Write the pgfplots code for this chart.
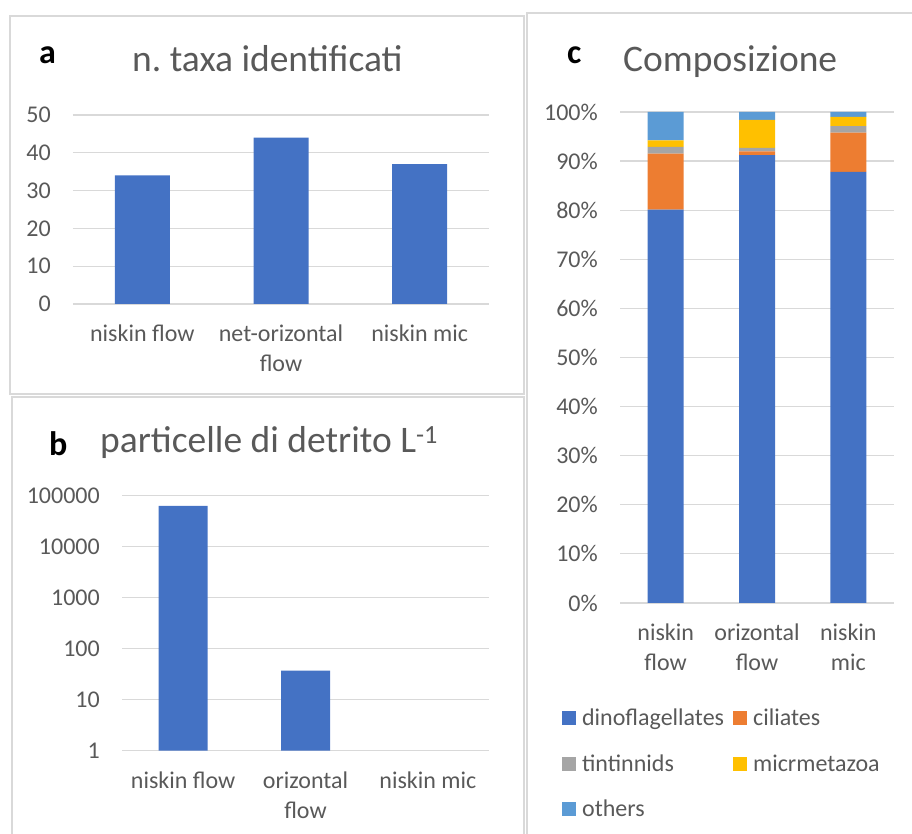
\documentclass[border=0pt]{standalone}
\usepackage{pgfplots}
\pgfplotsset{compat=1.18}
\usepackage{fontspec}
\setmainfont{Carlito}
\frenchspacing
\definecolor{cblue}{HTML}{4472C4}
\definecolor{corange}{HTML}{ED7D31}
\definecolor{cgray}{HTML}{A5A5A5}
\definecolor{cyellow}{HTML}{FFC000}
\definecolor{clblue}{HTML}{5B9BD5}
\definecolor{txt}{HTML}{595959}
\definecolor{gridc}{HTML}{D9D9D9}
\pgfplotsset{
  panel/.style={
    scale only axis,
    axis line style={draw=none},
    major tick length=0pt,
    minor tick length=0pt,
    ymajorgrids,
    grid style={gridc, line width=1.2pt},
    xmin=-0.5, xmax=2.5,
    xtick={0,1,2},
    enlargelimits=false,
    tick label style={font=\fontsize{24}{29.5}\selectfont, text=txt},
    xticklabel style={align=center, anchor=north, inner sep=0pt, yshift=-21pt},
    yticklabel style={anchor=east, inner sep=0pt, xshift=-22pt},
  }
}
\begin{document}
\begin{tikzpicture}
\useasboundingbox (0pt,0pt) rectangle (912pt,834pt);
\clip (0pt,0pt) rectangle (912pt,834pt);
% panel frames
\draw[gridc, line width=1.3pt] (10pt,440pt) rectangle (524pt,818pt);
\draw[gridc, line width=1.3pt] (12pt,-10pt) rectangle (524pt,437pt);
\draw[gridc, line width=1.3pt] (527pt,-10pt) rectangle (930pt,821pt);

% ---------- panel a ----------
\begin{axis}[panel,
  at={(73pt,530pt)}, anchor=south west,
  width=416pt, height=189pt,
  ymin=0, ymax=50,
  ytick={0,10,20,30,40,50},
  yticklabels={0,10,20,30,40,50},
  xticklabels={niskin flow,{net-orizontal\\flow},niskin mic},
  ybar, bar width=55pt]
\addplot[fill=cblue, draw=none] coordinates {(0,34) (1,44) (2,37)};
\end{axis}
\node[anchor=base west, inner sep=0pt, font=\fontsize{34}{40}\selectfont\bfseries] at (39pt,770pt) {a};
\node[anchor=base west, inner sep=0pt, text=txt, font=\fontsize{37.5}{45}\selectfont] at (132pt,762pt) {n. taxa identificati};

% ---------- panel b ----------
\begin{axis}[panel,
  at={(122pt,83.3pt)}, anchor=south west,
  width=367pt, height=255pt,
  ymode=log, ymin=1, ymax=100000, log origin=0,
  ytick={1,10,100,1000,10000,100000},
  yticklabels={1,10,100,1000,10000,100000},
  xticklabels={niskin flow,{orizontal\\flow},niskin mic},
  ybar, bar width=49pt]
\addplot[fill=cblue, draw=none] coordinates {(0,63000) (1,37)};
\end{axis}
\node[anchor=base west, inner sep=0pt, font=\fontsize{34}{40}\selectfont\bfseries] at (49pt,378pt) {b};
\node[anchor=base west, inner sep=0pt, text=txt, font=\fontsize{37.5}{45}\selectfont] at (100pt,381pt) {particelle di detrito L\textsuperscript{-1}};

% ---------- panel c ----------
\begin{axis}[panel,
  at={(620pt,231pt)}, anchor=south west,
  width=274pt, height=491pt,
  ymin=0, ymax=100,
  ytick={0,10,20,30,40,50,60,70,80,90,100},
  yticklabels={0\%,10\%,20\%,30\%,40\%,50\%,60\%,70\%,80\%,90\%,100\%},
  xticklabels={{niskin\\flow},{orizontal\\flow},{niskin\\mic}},
  ybar stacked, bar width=36pt,
  legend columns=2,
  legend cell align=left,
  legend image code/.code={\fill[#1] (0pt,-7pt) rectangle (14pt,7pt);},
  legend style={draw=none, fill=none, at={(-0.212,-0.212)}, anchor=north west,
    inner sep=0pt, font=\fontsize{24}{29.5}\selectfont, text=txt,
    row sep=23pt, nodes={inner sep=2pt},
    /tikz/every odd column/.append style={column sep=4pt},
    /tikz/every even column/.append style={column sep=7pt}},
  ]
\addplot[fill=cblue, draw=none] coordinates {(0,80.1) (1,91.2) (2,87.8)};
\addplot[fill=corange, draw=none] coordinates {(0,11.4) (1,0.8) (2,8.0)};
\addplot[fill=cgray, draw=none] coordinates {(0,1.4) (1,0.7) (2,1.3)};
\addplot[fill=cyellow, draw=none] coordinates {(0,1.3) (1,5.7) (2,1.9)};
\addplot[fill=clblue, draw=none] coordinates {(0,5.8) (1,1.6) (2,1.0)};
\legend{dinoflagellates,ciliates,tintinnids,micrmetazoa,others}
\end{axis}
\node[anchor=base west, inner sep=0pt, font=\fontsize{34}{40}\selectfont\bfseries] at (567pt,770pt) {c};
\node[anchor=base west, inner sep=0pt, text=txt, font=\fontsize{37.5}{45}\selectfont] at (623pt,762pt) {Composizione};
\end{tikzpicture}
\end{document}
